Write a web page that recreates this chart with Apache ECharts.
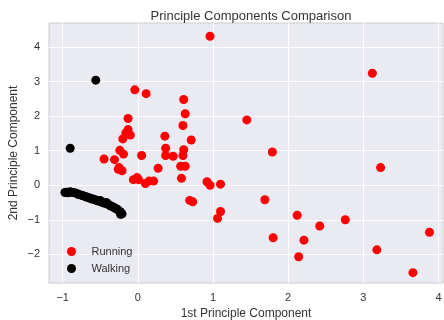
<!DOCTYPE html>
<html><head><meta charset="utf-8">
<script src="https://cdn.jsdelivr.net/npm/echarts@6/dist/echarts.min.js"></script>
<style>html,body{margin:0;padding:0;background:#fff}#c{width:444px;height:320px}</style>
</head><body><div id="c"></div>
<script>
const xTicks = [-1, 0, 1, 2, 3, 4];
const yTicks = [-2, -1, 0, 1, 2, 3, 4];
const running = [[0.96,4.31],[3.12,3.24],[-0.04,2.76],[0.11,2.65],[0.61,2.48],[0.63,2.07],[1.45,1.89],[-0.13,1.93],[0.60,1.73],[-0.13,1.61],[-0.16,1.51],[-0.10,1.45],[-0.20,1.34],[0.36,1.42],[0.71,1.31],[-0.24,1.01],[-0.19,0.90],[0.05,0.86],[0.37,1.07],[0.61,1.03],[0.37,0.86],[0.47,0.84],[0.60,0.86],[1.79,0.96],[-0.45,0.76],[-0.31,0.74],[-0.25,0.51],[-0.26,0.46],[-0.21,0.42],[0.27,0.49],[0.57,0.55],[0.63,0.55],[0.58,0.20],[-0.01,0.22],[-0.06,0.16],[0.01,0.16],[0.10,0.05],[0.15,0.12],[0.21,0.12],[0.92,0.10],[0.96,0.00],[1.10,0.03],[0.69,-0.44],[0.73,-0.48],[1.69,-0.42],[1.10,-0.76],[1.06,-0.96],[2.12,-0.87],[2.76,-1.00],[2.42,-1.18],[1.80,-1.52],[2.21,-1.59],[2.14,-2.07],[3.18,-1.87],[3.23,0.51],[3.88,-1.36],[3.66,-2.53]];
const walking = [[-0.90,1.07],[-0.56,3.04],[-0.97,-0.21],[-0.95,-0.20],[-0.93,-0.22],[-0.90,-0.19],[-0.87,-0.21],[-0.84,-0.22],[-0.81,-0.24],[-0.79,-0.27],[-0.76,-0.28],[-0.74,-0.30],[-0.72,-0.31],[-0.70,-0.33],[-0.68,-0.34],[-0.66,-0.36],[-0.64,-0.37],[-0.62,-0.39],[-0.60,-0.40],[-0.58,-0.41],[-0.56,-0.43],[-0.54,-0.45],[-0.52,-0.46],[-0.50,-0.44],[-0.48,-0.49],[-0.46,-0.51],[-0.44,-0.52],[-0.42,-0.50],[-0.40,-0.55],[-0.38,-0.57],[-0.36,-0.60],[-0.34,-0.62],[-0.32,-0.64],[-0.30,-0.67],[-0.28,-0.69],[-0.26,-0.72],[-0.24,-0.76],[-0.22,-0.80],[-0.21,-0.83],[-0.23,-0.84]];

const fmt = v => (v < 0 ? '\u2212' + Math.abs(v) : String(v));
const txt = '#333333';
const font = 'Liberation Sans, Arial, sans-serif';
const chart = echarts.init(document.getElementById('c'), null, {renderer: 'canvas'});
chart.setOption({
  animation: false,
  textStyle: {fontFamily: font},
  title: {text: 'Principle Components Comparison', left: 246, top: 5, textAlign: 'center',
    textStyle: {fontSize: 13, fontWeight: 'normal', color: txt, fontFamily: font}},
  grid: {left: 49, right: 1, top: 23, bottom: 37, outerBoundsMode: 'none', containLabel: false,
    show: true, backgroundColor: '#EAEAF2', borderColor: '#cccccc', borderWidth: 1},
  legend: {orient: 'vertical', left: 62, top: 241, itemWidth: 30, itemHeight: 9, itemGap: 6, icon: 'circle',
    textStyle: {fontSize: 11, color: txt, fontFamily: font},
    data: ['Running', 'Walking']},
  xAxis: {type: 'value', min: -1.182, max: 4.06,
    name: '1st Principle Component', nameLocation: 'middle', nameGap: 22,
    nameTextStyle: {fontSize: 12, color: txt, fontFamily: font},
    axisLine: {show: false}, axisTick: {show: false, customValues: xTicks},
    axisLabel: {customValues: xTicks, formatter: fmt, fontSize: 11, color: txt, margin: 9, fontFamily: font},
    splitLine: {show: true, lineStyle: {color: '#ffffff', width: 1}}},
  yAxis: {type: 'value', min: -2.83, max: 4.695,
    name: '2nd Principle Component', nameLocation: 'middle', nameGap: 29, nameMoveOverlap: false,
    nameTextStyle: {fontSize: 12, color: txt, fontFamily: font},
    axisLine: {show: false}, axisTick: {show: false, customValues: yTicks},
    axisLabel: {customValues: yTicks, formatter: fmt, fontSize: 11, color: txt, margin: 9, fontFamily: font},
    splitLine: {show: true, lineStyle: {color: '#ffffff', width: 1}}},
  series: [
    {name: 'Running', type: 'scatter', data: running, symbolSize: 9, itemStyle: {color: '#ff0000', opacity: 1}},
    {name: 'Walking', type: 'scatter', data: walking, symbolSize: 9, itemStyle: {color: '#000000', opacity: 1}}
  ]
});
</script></body></html>
